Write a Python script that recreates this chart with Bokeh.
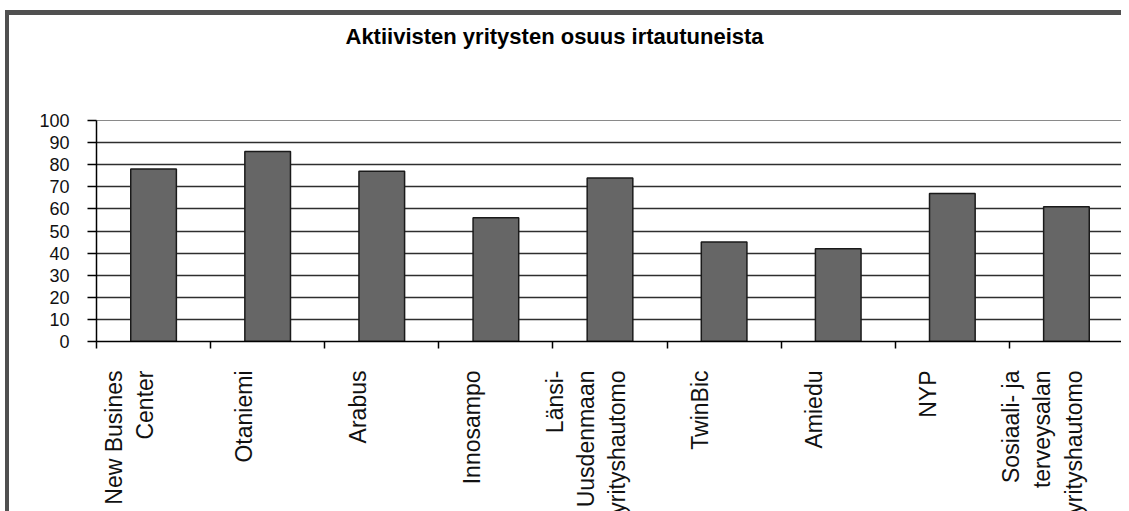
import math
from bokeh.plotting import figure
from bokeh.models import ColumnDataSource, Range1d, FixedTicker, Title
from bokeh.embed import file_html
from bokeh.resources import INLINE

# ---- data ----
categories = [
    "New Busines\nCenter",
    "Otaniemi",
    "Arabus",
    "Innosampo",
    "Länsi-\nUusdenmaan\nyrityshautomo",
    "TwinBic",
    "Amiedu",
    "NYP",
    "Sosiaali- ja\nterveysalan\nyrityshautomo",
]
values = [78, 86, 77, 56, 74, 45, 42, 67, 61]
y_ticks = [0, 10, 20, 30, 40, 50, 60, 70, 80, 90, 100]
title_text = "Aktiivisten yritysten osuus irtautuneista"

FONT = "Liberation Sans"

n = len(categories)
centers = [i + 0.5 for i in range(n)]
boundaries = list(range(n + 1))

FRAME_W = 1023                       # pixels of the plot area
LABEL_SHIFT_PX = 24                  # category labels sit slightly left of the bars
label_pos = [round(c - LABEL_SHIFT_PX * n / FRAME_W, 4) for c in centers]

src = ColumnDataSource(dict(x=centers, top=values))

# outer size includes the 4px/5px frame border drawn with CSS
p = figure(width=1116, height=501, output_backend="svg", toolbar_location=None,
           x_range=Range1d(0, n), y_range=Range1d(0, 100),
           min_border_left=87, min_border_right=2, min_border_top=105,
           min_border_bottom=173, background_fill_color="white",
           border_fill_color="white")
p.styles = {"margin-left": "5px", "margin-top": "10px",
            "border-left": "4px solid #505050", "border-top": "5px solid #505050"}

# spacer between title and plot area
p.add_layout(Title(text=" ", text_font_size="1px", standoff=64), "above")
p.title = Title(text=title_text, align="left", offset=249, standoff=10,
                text_font=FONT, text_font_size="22px", text_font_style="bold",
                text_color="#000000")

# bars
p.vbar(x="x", top="top", width=0.4, bottom=0, source=src,
       fill_color="#666666", line_color="#1a1a1a", line_width=1.5)

# grid
p.xgrid.visible = False
p.ygrid.ticker = FixedTicker(ticks=y_ticks)
p.ygrid.grid_line_color = "#2e2e2e"
p.ygrid.grid_line_width = 1.6
p.ygrid.level = "underlay"

p.outline_line_color = "#8a8a8a"
p.outline_line_width = 1

# y axis
p.yaxis.ticker = FixedTicker(ticks=y_ticks)
p.yaxis.axis_line_color = "#000000"
p.yaxis.axis_line_width = 1.5
p.yaxis.major_tick_out = 9
p.yaxis.major_tick_in = 0
p.yaxis.major_tick_line_width = 1.5
p.yaxis.minor_tick_line_color = None
p.yaxis.major_label_standoff = 18
p.yaxis.major_label_text_font = FONT
p.yaxis.major_label_text_font_size = "18px"
p.yaxis.major_label_text_color = "#111111"

# x axis: tick marks at category boundaries (minor), labels at categories (major)
p.xaxis.ticker = FixedTicker(ticks=label_pos, minor_ticks=boundaries)
p.xaxis.major_label_overrides = {pos: lab for pos, lab in zip(label_pos, categories)}
p.xaxis.axis_line_color = "#000000"
p.xaxis.axis_line_width = 1.5
p.xaxis.major_tick_line_color = None
p.xaxis.major_tick_out = 0
p.xaxis.major_tick_in = 0
p.xaxis.minor_tick_line_color = "#000000"
p.xaxis.minor_tick_line_width = 1.5
p.xaxis.minor_tick_out = 7
p.xaxis.minor_tick_in = 0
p.xaxis.major_label_orientation = math.pi / 2
p.xaxis.major_label_standoff = 22
p.xaxis.major_label_text_font = FONT
p.xaxis.major_label_text_font_size = "23px"
p.xaxis.major_label_text_color = "#111111"

open("out.html", "w").write(file_html(p, INLINE))
